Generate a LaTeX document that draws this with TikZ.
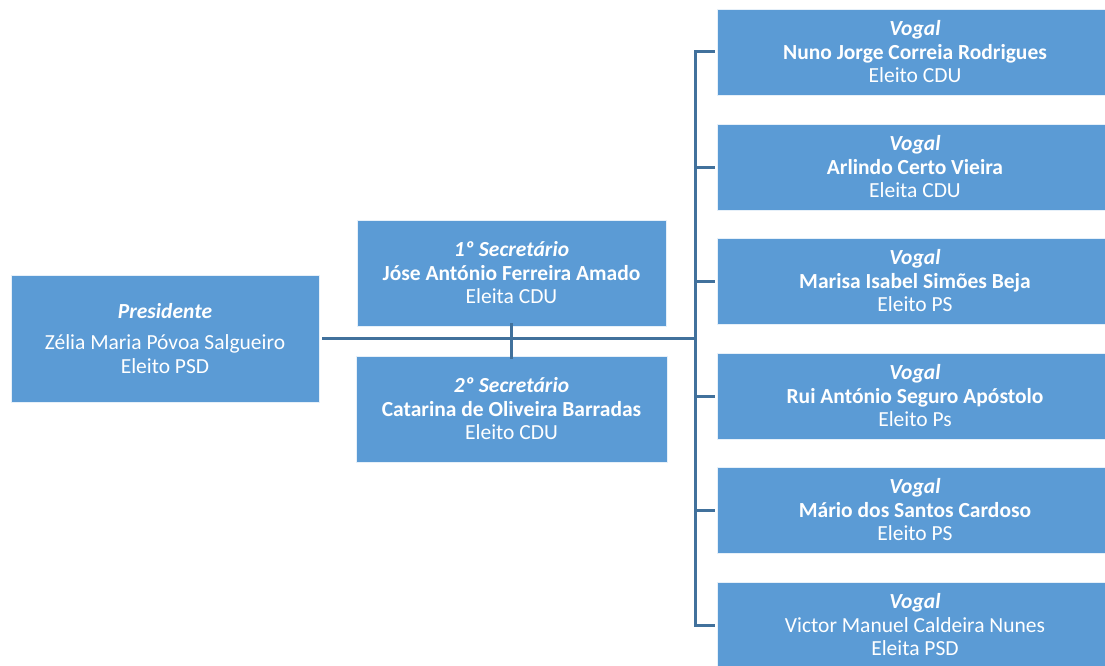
\documentclass[tikz,border=0pt]{standalone}
\usepackage{fontspec}
\setmainfont{Carlito}
\definecolor{boxblue}{HTML}{5B9BD5}
\definecolor{lineblue}{HTML}{41719C}
\begin{document}
\begin{tikzpicture}[x=1pt,y=-1pt,
  cargo/.style={fill=boxblue, draw=white!85!boxblue, line width=0.6pt, text=white, align=center,
    inner sep=0pt, font=\fontsize{21.5}{23.5}\selectfont},
  link/.style={draw=lineblue, line width=3pt}]
\useasboundingbox (0,0) rectangle (1105,666);

\node [cargo, minimum width=308pt, minimum height=127pt] (pres) at (165,338.5)
  {\textbf{\textit{Presidente}}\\[8pt] Zélia Maria Póvoa Salgueiro\\ Eleito PSD};
\node [cargo, minimum width=309pt, minimum height=106pt] (sec1) at (511.5,273)
  {\textbf{\textit{1º Secretário}}\\ \textbf{Jóse António Ferreira Amado}\\ Eleita CDU};
\node [cargo, minimum width=311pt, minimum height=106pt] (sec2) at (511.5,409)
  {\textbf{\textit{2º Secretário}}\\ \textbf{Catarina de Oliveira Barradas}\\ Eleito CDU};

\node [cargo, minimum width=396pt, minimum height=86pt] (vogal1) at (915,52)
  {\textbf{\textit{Vogal}}\\ \textbf{Nuno Jorge Correia Rodrigues}\\ Eleito CDU};
\node [cargo, minimum width=396pt, minimum height=86pt] (vogal2) at (915,167)
  {\textbf{\textit{Vogal}}\\ \textbf{Arlindo Certo Vieira}\\ Eleita CDU};
\node [cargo, minimum width=396pt, minimum height=86pt] (vogal3) at (915,281)
  {\textbf{\textit{Vogal}}\\ \textbf{Marisa Isabel Simões Beja}\\ Eleito PS};
\node [cargo, minimum width=396pt, minimum height=86pt] (vogal4) at (915,396)
  {\textbf{\textit{Vogal}}\\ \textbf{Rui António Seguro Apóstolo}\\ Eleito Ps};
\node [cargo, minimum width=396pt, minimum height=86pt] (vogal5) at (915,510)
  {\textbf{\textit{Vogal}}\\ \textbf{Mário dos Santos Cardoso}\\ Eleito PS};
\node [cargo, minimum width=396pt, minimum height=86pt] (vogal6) at (915,625)
  {\textbf{\textit{Vogal}}\\ Victor Manuel Caldeira Nunes\\ Eleita PSD};

\coordinate (spine) at (695,338);

% mesa
\draw [link] ([xshift=3pt]pres.east |- spine) -- (spine);
\draw [link] ([yshift=3pt]sec1.south) -- ([yshift=-3pt]sec2.north);

% vogais
\draw [link] ([xshift=-2pt]vogal1.west) -| (spine) |- ([xshift=-2pt]vogal6.west);
\foreach \i in {2,...,5} {
\draw [link] ([xshift=-2pt]vogal\i.west) -- (spine |- vogal\i.west);}
\end{tikzpicture}
\end{document}
